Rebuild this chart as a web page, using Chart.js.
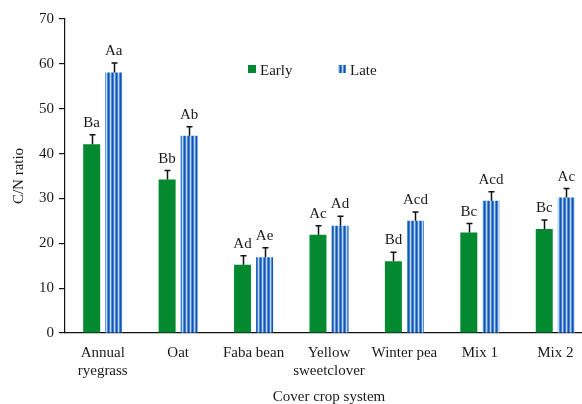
<!DOCTYPE html>
<html>
<head>
<meta charset="utf-8">
<script src="https://cdn.jsdelivr.net/npm/chart.js@4"></script>
<style>
  html, body { margin: 0; padding: 0; background: #fff; overflow: hidden; }
  #wrap { position: relative; width: 593px; height: 406px; }
</style>
</head>
<body>
<div id="wrap"><canvas id="c"></canvas></div>
<script>
// Cover crop systems and C/N ratios at the two termination timings
const categories = [["Annual", "ryegrass"], "Oat", "Faba bean", ["Yellow", "sweetclover"], "Winter pea", "Mix 1", "Mix 2"];
const earlyValues = [42.1, 34.2, 15.2, 21.9, 16.0, 22.4, 23.2];
const lateValues = [58.1, 44.0, 16.9, 23.9, 25.0, 29.5, 30.2];
const earlyErrors = [2.1, 2.0, 2.0, 2.0, 2.0, 2.0, 2.0];
const lateErrors = [2.1, 2.0, 2.1, 2.1, 2.0, 2.0, 2.0];
const earlyLetters = ["Ba", "Bb", "Ad", "Ac", "Bd", "Bc", "Bc"];
const lateLetters = ["Aa", "Ab", "Ae", "Ad", "Acd", "Acd", "Ac"];
const yTicks = [0, 10, 20, 30, 40, 50, 60, 70];

const FONT = "'Liberation Serif', 'Times New Roman', serif";
const TEXT = '#1a1a1a';
const GREEN = '#03892f';

// vertical stripe fill for the Late bars
function stripePattern() {
  const pc = document.createElement('canvas');
  pc.width = 4; pc.height = 4;
  const p = pc.getContext('2d');
  const cols = ['#1d50ae', '#3d84d6', '#c3d9f3', '#4a8edc'];
  cols.forEach((c, i) => { p.fillStyle = c; p.fillRect(i, 0, 1, 4); });
  return p.createPattern(pc, 'repeat');
}
const STRIPES = stripePattern();

const errorBarsAndLetters = {
  id: 'errorBarsAndLetters',
  afterDatasetsDraw(chart) {
    const ctx = chart.ctx;
    const y = chart.scales.y;
    const sets = [
      { vals: earlyValues, errs: earlyErrors, letters: earlyLetters },
      { vals: lateValues, errs: lateErrors, letters: lateLetters }
    ];
    ctx.save();
    sets.forEach((s, di) => {
      const meta = chart.getDatasetMeta(di);
      meta.data.forEach((bar, i) => {
        const x = Math.round(bar.x) + 0.5;
        const yTop = y.getPixelForValue(s.vals[i]);
        const yErr = y.getPixelForValue(s.vals[i] + s.errs[i]);
        ctx.strokeStyle = '#111';
        ctx.lineWidth = 1.5;
        ctx.beginPath();
        ctx.moveTo(x, yTop);
        ctx.lineTo(x, yErr);
        ctx.moveTo(x - 3, yErr);
        ctx.lineTo(x + 3, yErr);
        ctx.stroke();
        ctx.fillStyle = TEXT;
        ctx.font = '15px ' + FONT;
        ctx.textAlign = 'center';
        ctx.textBaseline = 'alphabetic';
        ctx.fillText(s.letters[i], bar.x, yErr - 8);
      });
    });
    ctx.restore();
  }
};

const innerLegend = {
  id: 'innerLegend',
  afterDraw(chart) {
    const ctx = chart.ctx;
    ctx.save();
    ctx.font = '15px ' + FONT;
    ctx.textBaseline = 'alphabetic';
    ctx.textAlign = 'left';
    ctx.fillStyle = GREEN;
    ctx.fillRect(248, 65, 8, 8);
    ctx.fillStyle = TEXT;
    ctx.fillText('Early', 260, 75);
    ctx.fillStyle = STRIPES;
    ctx.fillRect(338, 65, 8, 8);
    ctx.fillStyle = TEXT;
    ctx.fillText('Late', 350, 75);
    ctx.restore();
  }
};

new Chart(document.getElementById('c'), {
  type: 'bar',
  data: {
    labels: categories,
    datasets: [
      { label: 'Early', data: earlyValues, backgroundColor: GREEN, categoryPercentage: 0.585, barPercentage: 0.77 },
      { label: 'Late', data: lateValues, backgroundColor: STRIPES, categoryPercentage: 0.585, barPercentage: 0.77 }
    ]
  },
  options: {
    responsive: true,
    maintainAspectRatio: false,
    animation: false,
    devicePixelRatio: 1,
    layout: { padding: { top: 19, right: 0, bottom: 0, left: 0 } },
    plugins: {
      legend: { display: false },
      tooltip: { enabled: false }
    },
    scales: {
      x: {
        grid: { display: false },
        border: { display: true, color: '#111', width: 1.2 },
        ticks: { color: TEXT, font: { family: FONT, size: 15, lineHeight: 1.2 }, padding: 3, maxRotation: 0, autoSkip: false },
        title: { display: true, text: 'Cover crop system', color: TEXT, font: { family: FONT, size: 15 }, padding: { top: 4, bottom: 0 } },
        afterFit(s) { s.height = 73; }
      },
      y: {
        min: 0, max: 70,
        afterBuildTicks(s) { s.ticks = yTicks.map(v => ({ value: v })); },
        grid: { drawOnChartArea: false, drawTicks: true, tickLength: 6, color: '#111', lineWidth: 1.2 },
        border: { display: true, color: '#111', width: 1.2 },
        ticks: { color: TEXT, font: { family: FONT, size: 15 }, padding: 5 },
        title: { display: true, text: 'C/N ratio', color: TEXT, font: { family: FONT, size: 15 }, padding: { top: 10, bottom: 6 } },
        afterFit(s) { s.width = 65; }
      }
    }
  },
  plugins: [errorBarsAndLetters, innerLegend]
});
</script>
</body>
</html>
